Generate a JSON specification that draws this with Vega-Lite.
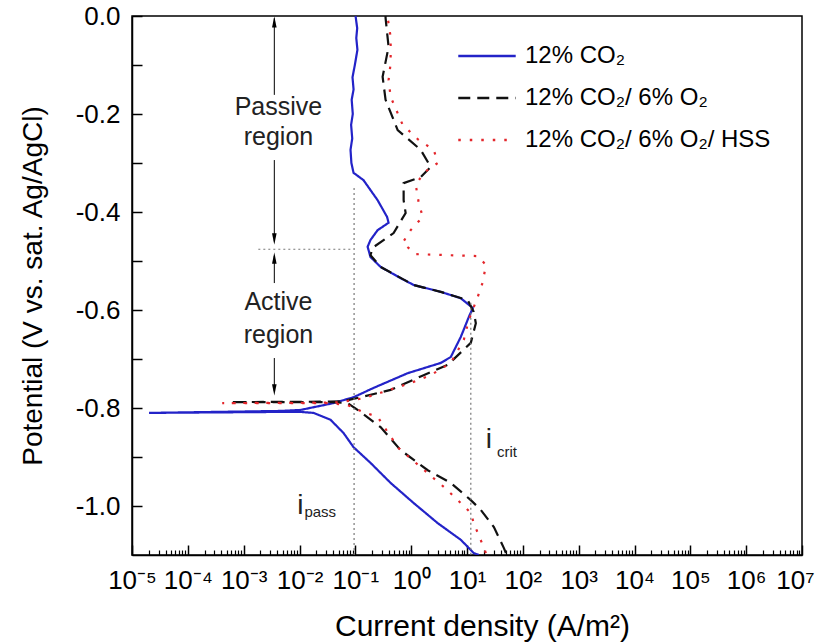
{
  "$schema": "https://vega.github.io/schema/vega-lite/v6.json",
  "width": 670,
  "height": 539,
  "autosize": {"type": "none"},
  "padding": {"left": 132, "top": 16, "right": 18, "bottom": 88},
  "background": "white",
  "config": {
    "view": {"stroke": "black", "strokeWidth": 1.5},
    "font": "Liberation Sans",
    "axis": {"labelFont": "Liberation Sans", "titleFont": "Liberation Sans", "labelColor": "black", "titleColor": "black", "domainColor": "black", "tickColor": "black", "grid": false}
  },
  "datasets": {
    "curves": [
      {"s": "12% CO₂", "i": 1, "x": 16.3, "V": -1.100},
      {"s": "12% CO₂", "i": 2, "x": 13.2, "V": -1.096},
      {"s": "12% CO₂", "i": 3, "x": 7.74, "V": -1.069},
      {"s": "12% CO₂", "i": 4, "x": 2.99, "V": -1.035},
      {"s": "12% CO₂", "i": 5, "x": 1.11, "V": -0.994},
      {"s": "12% CO₂", "i": 6, "x": 0.429, "V": -0.953},
      {"s": "12% CO₂", "i": 7, "x": 0.187, "V": -0.912},
      {"s": "12% CO₂", "i": 8, "x": 0.0929, "V": -0.880},
      {"s": "12% CO₂", "i": 9, "x": 0.0614, "V": -0.851},
      {"s": "12% CO₂", "i": 10, "x": 0.0359, "V": -0.824},
      {"s": "12% CO₂", "i": 11, "x": 0.0178, "V": -0.810},
      {"s": "12% CO₂", "i": 12, "x": 0.0104, "V": -0.808},
      {"s": "12% CO₂", "i": 13, "x": 0.00454, "V": -0.808},
      {"s": "12% CO₂", "i": 14, "x": 0.0000202, "V": -0.810},
      {"s": "12% CO₂", "i": 15, "x": 0.00454, "V": -0.806},
      {"s": "12% CO₂", "i": 16, "x": 0.0104, "V": -0.804},
      {"s": "12% CO₂", "i": 17, "x": 0.0406, "V": -0.790},
      {"s": "12% CO₂", "i": 18, "x": 0.0929, "V": -0.778},
      {"s": "12% CO₂", "i": 19, "x": 0.212, "V": -0.759},
      {"s": "12% CO₂", "i": 20, "x": 0.865, "V": -0.729},
      {"s": "12% CO₂", "i": 21, "x": 3.39, "V": -0.708},
      {"s": "12% CO₂", "i": 22, "x": 5.12, "V": -0.696},
      {"s": "12% CO₂", "i": 23, "x": 7.74, "V": -0.655},
      {"s": "12% CO₂", "i": 24, "x": 10.8, "V": -0.614},
      {"s": "12% CO₂", "i": 25, "x": 12.7, "V": -0.596},
      {"s": "12% CO₂", "i": 26, "x": 7.74, "V": -0.576},
      {"s": "12% CO₂", "i": 27, "x": 3.39, "V": -0.563},
      {"s": "12% CO₂", "i": 28, "x": 1.11, "V": -0.549},
      {"s": "12% CO₂", "i": 29, "x": 0.647, "V": -0.535},
      {"s": "12% CO₂", "i": 30, "x": 0.283, "V": -0.512},
      {"s": "12% CO₂", "i": 31, "x": 0.187, "V": -0.492},
      {"s": "12% CO₂", "i": 32, "x": 0.166, "V": -0.471},
      {"s": "12% CO₂", "i": 33, "x": 0.187, "V": -0.457},
      {"s": "12% CO₂", "i": 34, "x": 0.251, "V": -0.437},
      {"s": "12% CO₂", "i": 35, "x": 0.394, "V": -0.422},
      {"s": "12% CO₂", "i": 36, "x": 0.37, "V": -0.410},
      {"s": "12% CO₂", "i": 37, "x": 0.251, "V": -0.376},
      {"s": "12% CO₂", "i": 38, "x": 0.140, "V": -0.335},
      {"s": "12% CO₂", "i": 39, "x": 0.0929, "V": -0.320},
      {"s": "12% CO₂", "i": 40, "x": 0.085, "V": -0.300},
      {"s": "12% CO₂", "i": 41, "x": 0.082, "V": -0.273},
      {"s": "12% CO₂", "i": 42, "x": 0.088, "V": -0.250},
      {"s": "12% CO₂", "i": 43, "x": 0.084, "V": -0.222},
      {"s": "12% CO₂", "i": 44, "x": 0.090, "V": -0.200},
      {"s": "12% CO₂", "i": 45, "x": 0.086, "V": -0.171},
      {"s": "12% CO₂", "i": 46, "x": 0.093, "V": -0.150},
      {"s": "12% CO₂", "i": 47, "x": 0.089, "V": -0.125},
      {"s": "12% CO₂", "i": 48, "x": 0.098, "V": -0.100},
      {"s": "12% CO₂", "i": 49, "x": 0.109, "V": -0.069},
      {"s": "12% CO₂", "i": 50, "x": 0.104, "V": -0.045},
      {"s": "12% CO₂", "i": 51, "x": 0.108, "V": -0.025},
      {"s": "12% CO₂", "i": 52, "x": 0.101, "V": 0.0},
      {"s": "12% CO₂/ 6% O₂", "i": 1, "x": 49.8, "V": -1.096},
      {"s": "12% CO₂/ 6% O₂", "i": 2, "x": 45.8, "V": -1.086},
      {"s": "12% CO₂/ 6% O₂", "i": 3, "x": 30.3, "V": -1.043},
      {"s": "12% CO₂/ 6% O₂", "i": 4, "x": 17.7, "V": -1.008},
      {"s": "12% CO₂/ 6% O₂", "i": 5, "x": 11.7, "V": -0.988},
      {"s": "12% CO₂/ 6% O₂", "i": 6, "x": 5.12, "V": -0.953},
      {"s": "12% CO₂/ 6% O₂", "i": 7, "x": 1.98, "V": -0.927},
      {"s": "12% CO₂/ 6% O₂", "i": 8, "x": 0.647, "V": -0.886},
      {"s": "12% CO₂/ 6% O₂", "i": 9, "x": 0.283, "V": -0.839},
      {"s": "12% CO₂/ 6% O₂", "i": 10, "x": 0.124, "V": -0.808},
      {"s": "12% CO₂/ 6% O₂", "i": 11, "x": 0.0724, "V": -0.790},
      {"s": "12% CO₂/ 6% O₂", "i": 12, "x": 0.0359, "V": -0.788},
      {"s": "12% CO₂/ 6% O₂", "i": 13, "x": 0.000574, "V": -0.788},
      {"s": "12% CO₂/ 6% O₂", "i": 14, "x": 0.0359, "V": -0.787},
      {"s": "12% CO₂/ 6% O₂", "i": 15, "x": 0.0614, "V": -0.786},
      {"s": "12% CO₂/ 6% O₂", "i": 16, "x": 0.124, "V": -0.778},
      {"s": "12% CO₂/ 6% O₂", "i": 17, "x": 0.429, "V": -0.763},
      {"s": "12% CO₂/ 6% O₂", "i": 18, "x": 1.67, "V": -0.733},
      {"s": "12% CO₂/ 6% O₂", "i": 19, "x": 4.52, "V": -0.712},
      {"s": "12% CO₂/ 6% O₂", "i": 20, "x": 11.7, "V": -0.667},
      {"s": "12% CO₂/ 6% O₂", "i": 21, "x": 14.4, "V": -0.627},
      {"s": "12% CO₂/ 6% O₂", "i": 22, "x": 13.2, "V": -0.604},
      {"s": "12% CO₂/ 6% O₂", "i": 23, "x": 10.3, "V": -0.580},
      {"s": "12% CO₂/ 6% O₂", "i": 24, "x": 3.39, "V": -0.563},
      {"s": "12% CO₂/ 6% O₂", "i": 25, "x": 1.11, "V": -0.549},
      {"s": "12% CO₂/ 6% O₂", "i": 26, "x": 0.283, "V": -0.512},
      {"s": "12% CO₂/ 6% O₂", "i": 27, "x": 0.187, "V": -0.488},
      {"s": "12% CO₂/ 6% O₂", "i": 28, "x": 0.204, "V": -0.473},
      {"s": "12% CO₂/ 6% O₂", "i": 29, "x": 0.485, "V": -0.443},
      {"s": "12% CO₂/ 6% O₂", "i": 30, "x": 0.796, "V": -0.402},
      {"s": "12% CO₂/ 6% O₂", "i": 31, "x": 0.733, "V": -0.376},
      {"s": "12% CO₂/ 6% O₂", "i": 32, "x": 0.733, "V": -0.341},
      {"s": "12% CO₂/ 6% O₂", "i": 33, "x": 1.48, "V": -0.329},
      {"s": "12% CO₂/ 6% O₂", "i": 34, "x": 2.24, "V": -0.308},
      {"s": "12% CO₂/ 6% O₂", "i": 35, "x": 1.48, "V": -0.273},
      {"s": "12% CO₂/ 6% O₂", "i": 36, "x": 0.573, "V": -0.233},
      {"s": "12% CO₂/ 6% O₂", "i": 37, "x": 0.348, "V": -0.171},
      {"s": "12% CO₂/ 6% O₂", "i": 38, "x": 0.308, "V": -0.124},
      {"s": "12% CO₂/ 6% O₂", "i": 39, "x": 0.394, "V": -0.063},
      {"s": "12% CO₂/ 6% O₂", "i": 40, "x": 0.348, "V": -0.004},
      {"s": "12% CO₂/ 6% O₂", "i": 41, "x": 0.348, "V": 0.0},
      {"s": "12% CO₂/ 6% O₂/ HSS", "i": 1, "x": 21.8, "V": -1.096},
      {"s": "12% CO₂/ 6% O₂/ HSS", "i": 2, "x": 19.2, "V": -1.080},
      {"s": "12% CO₂/ 6% O₂/ HSS", "i": 3, "x": 15.6, "V": -1.055},
      {"s": "12% CO₂/ 6% O₂/ HSS", "i": 4, "x": 13.2, "V": -1.035},
      {"s": "12% CO₂/ 6% O₂/ HSS", "i": 5, "x": 11.7, "V": -1.014},
      {"s": "12% CO₂/ 6% O₂/ HSS", "i": 6, "x": 6.84, "V": -0.988},
      {"s": "12% CO₂/ 6% O₂/ HSS", "i": 7, "x": 3.83, "V": -0.961},
      {"s": "12% CO₂/ 6% O₂/ HSS", "i": 8, "x": 1.98, "V": -0.933},
      {"s": "12% CO₂/ 6% O₂/ HSS", "i": 9, "x": 0.597, "V": -0.882},
      {"s": "12% CO₂/ 6% O₂/ HSS", "i": 10, "x": 0.378, "V": -0.849},
      {"s": "12% CO₂/ 6% O₂/ HSS", "i": 11, "x": 0.251, "V": -0.818},
      {"s": "12% CO₂/ 6% O₂/ HSS", "i": 12, "x": 0.135, "V": -0.808},
      {"s": "12% CO₂/ 6% O₂/ HSS", "i": 13, "x": 0.0724, "V": -0.794},
      {"s": "12% CO₂/ 6% O₂/ HSS", "i": 14, "x": 0.0359, "V": -0.790},
      {"s": "12% CO₂/ 6% O₂/ HSS", "i": 15, "x": 0.000413, "V": -0.790},
      {"s": "12% CO₂/ 6% O₂/ HSS", "i": 16, "x": 0.0359, "V": -0.789},
      {"s": "12% CO₂/ 6% O₂/ HSS", "i": 17, "x": 0.0542, "V": -0.788},
      {"s": "12% CO₂/ 6% O₂/ HSS", "i": 18, "x": 0.140, "V": -0.780},
      {"s": "12% CO₂/ 6% O₂/ HSS", "i": 19, "x": 0.283, "V": -0.769},
      {"s": "12% CO₂/ 6% O₂/ HSS", "i": 20, "x": 0.98, "V": -0.749},
      {"s": "12% CO₂/ 6% O₂/ HSS", "i": 21, "x": 2.24, "V": -0.733},
      {"s": "12% CO₂/ 6% O₂/ HSS", "i": 22, "x": 5.12, "V": -0.708},
      {"s": "12% CO₂/ 6% O₂/ HSS", "i": 23, "x": 8.77, "V": -0.661},
      {"s": "12% CO₂/ 6% O₂/ HSS", "i": 24, "x": 10.8, "V": -0.620},
      {"s": "12% CO₂/ 6% O₂/ HSS", "i": 25, "x": 15.6, "V": -0.573},
      {"s": "12% CO₂/ 6% O₂/ HSS", "i": 26, "x": 19.2, "V": -0.543},
      {"s": "12% CO₂/ 6% O₂/ HSS", "i": 27, "x": 21.8, "V": -0.508},
      {"s": "12% CO₂/ 6% O₂/ HSS", "i": 28, "x": 15.6, "V": -0.490},
      {"s": "12% CO₂/ 6% O₂/ HSS", "i": 29, "x": 1.21, "V": -0.486},
      {"s": "12% CO₂/ 6% O₂/ HSS", "i": 30, "x": 0.703, "V": -0.463},
      {"s": "12% CO₂/ 6% O₂/ HSS", "i": 31, "x": 0.98, "V": -0.437},
      {"s": "12% CO₂/ 6% O₂/ HSS", "i": 32, "x": 1.61, "V": -0.410},
      {"s": "12% CO₂/ 6% O₂/ HSS", "i": 33, "x": 1.36, "V": -0.380},
      {"s": "12% CO₂/ 6% O₂/ HSS", "i": 34, "x": 1.21, "V": -0.345},
      {"s": "12% CO₂/ 6% O₂/ HSS", "i": 35, "x": 1.67, "V": -0.320},
      {"s": "12% CO₂/ 6% O₂/ HSS", "i": 36, "x": 2.99, "V": -0.300},
      {"s": "12% CO₂/ 6% O₂/ HSS", "i": 37, "x": 2.54, "V": -0.273},
      {"s": "12% CO₂/ 6% O₂/ HSS", "i": 38, "x": 1.36, "V": -0.253},
      {"s": "12% CO₂/ 6% O₂/ HSS", "i": 39, "x": 0.703, "V": -0.222},
      {"s": "12% CO₂/ 6% O₂/ HSS", "i": 40, "x": 0.429, "V": -0.165},
      {"s": "12% CO₂/ 6% O₂/ HSS", "i": 41, "x": 0.394, "V": -0.131},
      {"s": "12% CO₂/ 6% O₂/ HSS", "i": 42, "x": 0.429, "V": -0.096},
      {"s": "12% CO₂/ 6% O₂/ HSS", "i": 43, "x": 0.429, "V": -0.043},
      {"s": "12% CO₂/ 6% O₂/ HSS", "i": 44, "x": 0.378, "V": -0.002},
      {"s": "12% CO₂/ 6% O₂/ HSS", "i": 45, "x": 0.378, "V": 0.0}
    ],
    "guides": [
      {"x": 0.095, "x2": 0.095, "V": -0.351, "V2": -1.1},
      {"x": 11.7, "x2": 11.7, "V": -0.585, "V2": -1.1},
      {"x": 0.00183, "x2": 0.082, "V": -0.476, "V2": -0.476}
    ],
    "arrows": [
      {"x": 0.00354, "x2": 0.00354, "V": -0.005, "V2": -0.161},
      {"x": 0.00354, "x2": 0.00354, "V": -0.294, "V2": -0.46},
      {"x": 0.00354, "x2": 0.00354, "V": -0.49, "V2": -0.545},
      {"x": 0.00354, "x2": 0.00354, "V": -0.698, "V2": -0.765}
    ],
    "headsUp": [
      {"x": 0.00354, "V": -0.012},
      {"x": 0.00354, "V": -0.494}
    ],
    "headsDown": [
      {"x": 0.00354, "V": -0.455},
      {"x": 0.00354, "V": -0.763}
    ],
    "words": [
      {"x": 0.0042, "V": -0.186, "t": "Passive"},
      {"x": 0.0042, "V": -0.247, "t": "region"},
      {"x": 0.0042, "V": -0.584, "t": "Active"},
      {"x": 0.0042, "V": -0.651, "t": "region"}
    ],
    "iletters": [
      {"x": 0.0104, "V": -1.0, "t": "i"},
      {"x": 24.6, "V": -0.865, "t": "i"}
    ],
    "subs": [
      {"x": 0.01225, "V": -1.012, "t": "pass"},
      {"x": 34.3, "V": -0.890, "t": "crit"}
    ]
  },
  "resolve": {"axis": {"x": "independent", "y": "independent"}},
  "layer": [
    {
      "data": {"name": "curves"},
      "mark": {"type": "line", "strokeWidth": 2.2, "clip": true},
      "encoding": {
        "x": {
          "field": "x", "type": "quantitative",
          "scale": {"type": "log", "domain": [0.00001, 10000000], "nice": false},
          "axis": {
            "values": [0.00001, 0.0001, 0.001, 0.01, 0.1, 1, 10, 100, 1000, 10000, 100000, 1000000, 10000000],
            "labelExpr": "'10' + ['⁻⁵','⁻⁴','⁻³','⁻²','⁻¹','⁰','¹','²','³','⁴','⁵','⁶','⁷'][round(log(datum.value)/LN10)+5]",
            "tickSize": -10, "tickWidth": 1.5, "domainWidth": 1.5,
            "labelFontSize": 26, "labelPadding": 22, "labelFlush": false, "labelOverlap": false,
            "labelOffset": {"condition": {"test": "datum.value > 5000000", "value": -7}, "value": 0},
            "title": "Current density (A/m²)", "titleFontSize": 30, "titleFontWeight": "normal",
            "titlePadding": 18, "titleX": 350
          }
        },
        "y": {
          "field": "V", "type": "quantitative",
          "scale": {"domain": [-1.1, 0], "nice": false, "zero": false},
          "axis": {
            "values": [0, -0.1, -0.2, -0.3, -0.4, -0.5, -0.6, -0.7, -0.8, -0.9, -1.0],
            "labelExpr": "abs(round(datum.value*10)) % 2 == 0 ? replace(format(datum.value, '.1f'), '−', '-') : ''",
            "tickSize": -10, "tickWidth": 1.5, "domainWidth": 1.5,
            "labelFontSize": 26, "labelPadding": 22, "labelFlush": false, "labelOverlap": false,
            "title": "Potential (V vs. sat. Ag/AgCl)", "titleFontSize": 28, "titleFontWeight": "normal",
            "titlePadding": 28
          }
        },
        "order": {"field": "i", "type": "quantitative"},
        "color": {
          "field": "s", "type": "nominal",
          "scale": {"domain": ["12% CO₂", "12% CO₂/ 6% O₂", "12% CO₂/ 6% O₂/ HSS"], "range": ["#2323c8", "#111111", "#e3262b"]},
          "legend": {
            "title": null, "orient": "none", "legendX": 325, "legendY": 10,
            "symbolType": "stroke", "symbolSize": 3300, "symbolStrokeWidth": 2.5,
            "labelFontSize": 24, "labelFont": "Liberation Sans", "labelColor": "black",
            "rowPadding": 0, "labelOffset": 8, "labelLimit": 400
          }
        },
        "strokeDash": {
          "field": "s", "type": "nominal",
          "scale": {"domain": ["12% CO₂", "12% CO₂/ 6% O₂", "12% CO₂/ 6% O₂/ HSS"], "range": [[1, 0], [12, 7], [2.5, 9]]},
          "legend": null
        }
      }
    },
    {
      "data": {"name": "guides"},
      "mark": {"type": "rule", "color": "#777777", "strokeWidth": 1.2, "strokeDash": [2, 3]},
      "encoding": {
        "x": {"field": "x", "type": "quantitative", "scale": {"type": "log"},
          "axis": {
            "values": [0.00002,0.00003,0.00004,0.00005,0.00006,0.00007,0.00008,0.00009,
                       0.0002,0.0003,0.0004,0.0005,0.0006,0.0007,0.0008,0.0009,
                       0.002,0.003,0.004,0.005,0.006,0.007,0.008,0.009,
                       0.02,0.03,0.04,0.05,0.06,0.07,0.08,0.09,
                       0.2,0.3,0.4,0.5,0.6,0.7,0.8,0.9,
                       2,3,4,5,6,7,8,9,
                       20,30,40,50,60,70,80,90,
                       200,300,400,500,600,700,800,900,
                       2000,3000,4000,5000,6000,7000,8000,9000,
                       20000,30000,40000,50000,60000,70000,80000,90000,
                       200000,300000,400000,500000,600000,700000,800000,900000,
                       2000000,3000000,4000000,5000000,6000000,7000000,8000000,9000000],
            "orient": "bottom", "labels": false, "domain": false, "title": null,
            "tickSize": -5, "tickWidth": 1.2
          }
        },
        "x2": {"field": "x2"},
        "y": {"field": "V", "type": "quantitative", "axis": null},
        "y2": {"field": "V2"}
      }
    },
    {
      "data": {"name": "arrows"},
      "mark": {"type": "rule", "color": "black", "strokeWidth": 1},
      "encoding": {
        "x": {"field": "x", "type": "quantitative", "axis": null},
        "x2": {"field": "x2"},
        "y": {"field": "V", "type": "quantitative", "axis": null},
        "y2": {"field": "V2"}
      }
    },
    {
      "data": {"name": "headsUp"},
      "mark": {"type": "point", "shape": "M0,-1L0.4,1L-0.4,1Z", "size": 130, "filled": true, "color": "black", "opacity": 1},
      "encoding": {
        "x": {"field": "x", "type": "quantitative", "axis": null},
        "y": {"field": "V", "type": "quantitative", "axis": null}
      }
    },
    {
      "data": {"name": "headsDown"},
      "mark": {"type": "point", "shape": "M0,1L0.4,-1L-0.4,-1Z", "size": 130, "filled": true, "color": "black", "opacity": 1},
      "encoding": {
        "x": {"field": "x", "type": "quantitative", "axis": null},
        "y": {"field": "V", "type": "quantitative", "axis": null}
      }
    },
    {
      "data": {"name": "words"},
      "mark": {"type": "text", "fontSize": 25, "font": "Liberation Sans", "color": "#222222", "align": "center", "baseline": "middle"},
      "encoding": {
        "x": {"field": "x", "type": "quantitative", "axis": null},
        "y": {"field": "V", "type": "quantitative", "axis": null},
        "text": {"field": "t"}
      }
    },
    {
      "data": {"name": "iletters"},
      "mark": {"type": "text", "fontSize": 28, "font": "Liberation Sans", "color": "#222222", "align": "center", "baseline": "middle"},
      "encoding": {
        "x": {"field": "x", "type": "quantitative", "axis": null},
        "y": {"field": "V", "type": "quantitative", "axis": null},
        "text": {"field": "t"}
      }
    },
    {
      "data": {"name": "subs"},
      "mark": {"type": "text", "fontSize": 15, "font": "Liberation Sans", "color": "#222222", "align": "left", "baseline": "middle"},
      "encoding": {
        "x": {"field": "x", "type": "quantitative", "axis": null},
        "y": {"field": "V", "type": "quantitative", "axis": null},
        "text": {"field": "t"}
      }
    }
  ]
}
